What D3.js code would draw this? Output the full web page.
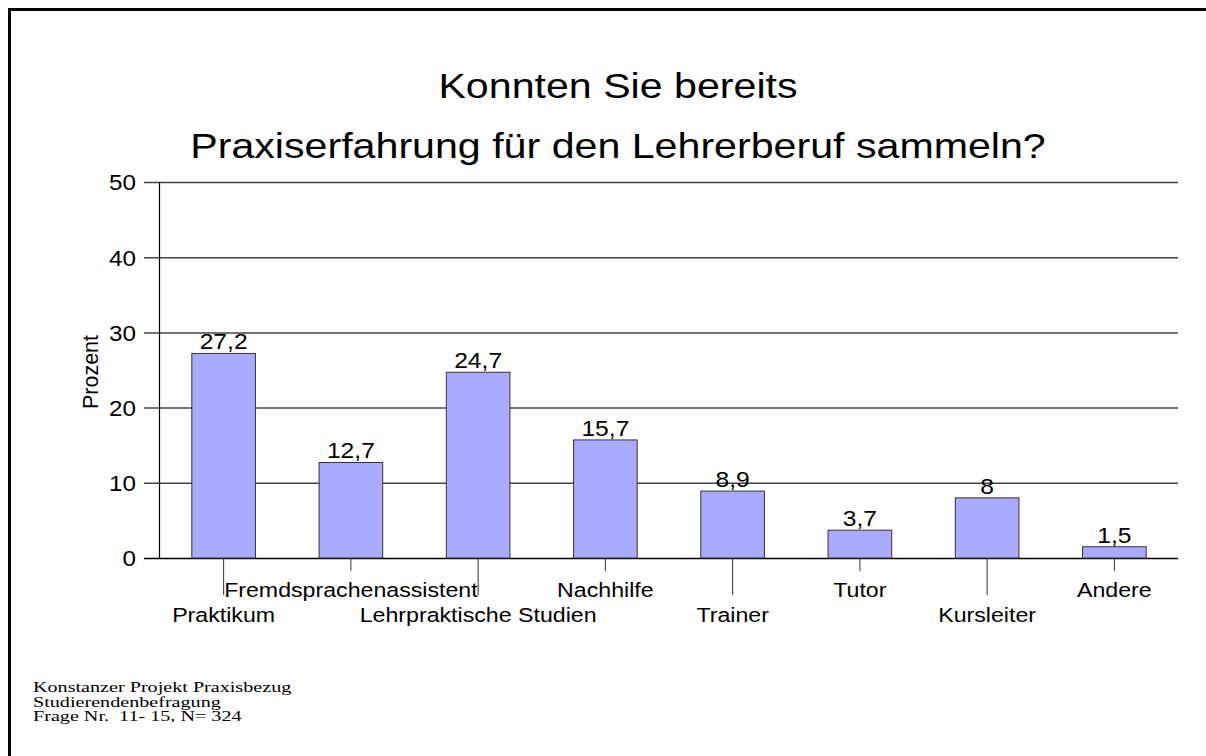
<!DOCTYPE html>
<html lang="de">
<head>
<meta charset="UTF-8" />
<title>Praxiserfahrung</title>
<script src="https://cdnjs.cloudflare.com/ajax/libs/d3/7.6.1/d3.min.js"></script>
<style>
  html, body { margin: 0; background: #fff; overflow: hidden; }
  svg { display: block; position: absolute; left: 0; top: 0; }
</style>
</head>
<body>
<script>
// data
const categories = ["Praktikum", "Fremdsprachenassistent", "Lehrpraktische Studien", "Nachhilfe",
  "Trainer", "Tutor", "Kursleiter", "Andere"];
const values = [27.2, 12.7, 24.7, 15.7, 8.9, 3.7, 8, 1.5];
const yTicks = [0, 10, 20, 30, 40, 50];
const titleLines = ["Konnten Sie bereits", "Praxiserfahrung für den Lehrerberuf sammeln?"];
const yLabel = "Prozent";
const footerLines = ["Konstanzer Projekt Praxisbezug", "Studierendenbefragung", "Frage Nr.  11- 15, N= 324"];

const width = 1206, height = 756;
const plot = { left: 160, right: 1178, top: 182, bottom: 558 };
const sans = "Arial, 'Liberation Sans', sans-serif";
const serif = "'Liberation Serif', 'Times New Roman', serif";

const svg = d3.select("body").append("svg")
  .attr("width", width).attr("height", height)
  .attr("font-family", sans);

// frame (only top and left edges are visible)
svg.append("line").attr("x1", 8).attr("x2", width).attr("y1", 9.5).attr("y2", 9.5)
  .attr("stroke", "#000").attr("stroke-width", 3);
svg.append("line").attr("x1", 9.5).attr("x2", 9.5).attr("y1", 8).attr("y2", height)
  .attr("stroke", "#000").attr("stroke-width", 3);

// the original text is stretched horizontally
function placeText(sel, x, y, scale, rotate) {
  sel.attr("transform", `translate(${x},${y})${rotate ? ` rotate(${rotate})` : ""} scale(${scale},1)`);
  return sel;
}

// title
titleLines.forEach((t, i) => {
  placeText(svg.append("text"), 618, 98 + i * 60, 1.15)
    .attr("text-anchor", "middle").attr("font-size", 35.8).text(t);
});

const x = d3.scaleBand().domain(categories).range([plot.left, plot.right])
  .paddingInner(0.5).paddingOuter(0.25);
const y = d3.scaleLinear().domain([0, 50]).range([plot.bottom, plot.top]);

// y axis with gridlines
const yAxis = svg.append("g").attr("transform", `translate(144,0)`)
  .call(d3.axisLeft(y).tickValues(yTicks).tickSizeInner(-(plot.right - 144)).tickSizeOuter(0).tickPadding(0));
yAxis.select(".domain").remove();
yAxis.selectAll(".tick line")
  .attr("stroke", d => d === 0 ? "#000" : "#444")
  .attr("stroke-width", 1.5);
yAxis.selectAll(".tick text")
  .attr("x", null).attr("dy", "0.36em").attr("font-size", 22).attr("fill", "#000")
  .attr("font-family", sans)
  .each(function () { placeText(d3.select(this), -8, 0, 1.1); });

svg.append("line").attr("x1", plot.left - 0.5).attr("x2", plot.left - 0.5)
  .attr("y1", y(50)).attr("y2", y(0)).attr("stroke", "#000").attr("stroke-width", 1.2);

placeText(svg.append("text"), 98, 372, 1.0, -90)
  .attr("text-anchor", "middle").attr("font-size", 21.5).text(yLabel);

// bars
svg.append("g").selectAll("rect").data(values).join("rect")
  .attr("x", (d, i) => x(categories[i]))
  .attr("y", d => y(d))
  .attr("width", x.bandwidth())
  .attr("height", d => y(0) - y(d))
  .attr("fill", "#aaaaff").attr("stroke", "#333").attr("stroke-width", 1);

svg.append("g").selectAll("text").data(values).join("text")
  .attr("text-anchor", "middle").attr("font-size", 22)
  .each(function (d, i) {
    placeText(d3.select(this), x(categories[i]) + x.bandwidth() / 2, y(d) - 4, 1.12);
  })
  .text(d => String(d).replace(".", ","));

// x axis: staggered labels
const xAxis = svg.append("g").attr("transform", `translate(0,${plot.bottom})`)
  .call(d3.axisBottom(x).tickSizeOuter(0));
xAxis.select(".domain").remove();
xAxis.selectAll(".tick line")
  .attr("stroke", "#333").attr("stroke-width", 1)
  .attr("y2", (d, i) => i % 2 === 0 ? 37 : 13);
xAxis.selectAll(".tick text")
  .attr("y", null).attr("dy", null).attr("font-size", 20.5).attr("fill", "#000")
  .attr("font-family", sans)
  .each(function (d, i) { placeText(d3.select(this), 0, i % 2 === 0 ? 64 : 39, 1.13); });

// footer
footerLines.forEach((t, i) => {
  placeText(svg.append("text"), 33, 692 + i * 14.5, 1.38)
    .attr("font-family", serif).attr("xml:space", "preserve")
    .style("white-space", "pre")
    .attr("font-size", 14.6).text(t);
});
</script>
</body>
</html>
